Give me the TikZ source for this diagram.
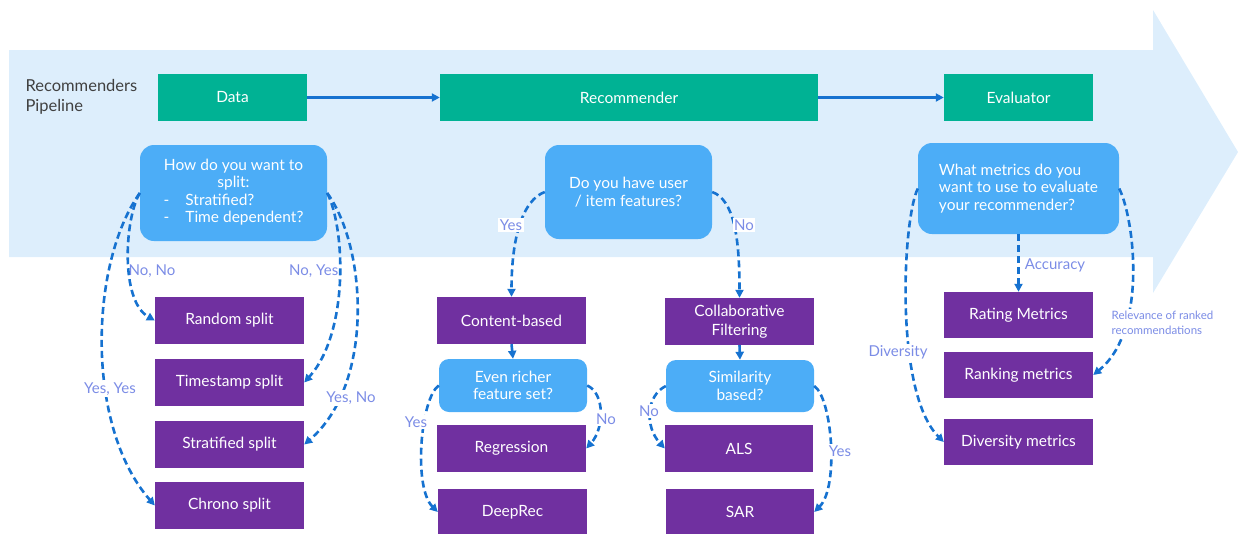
\documentclass[tikz,border=0pt]{standalone}
\usepackage{fontspec}
\setmainfont{Lato}
\usetikzlibrary{arrows.meta}
\definecolor{bgblue}{HTML}{DDEEFC}
\definecolor{greenc}{HTML}{00B294}
\definecolor{purplec}{HTML}{7030A0}
\definecolor{qblue}{HTML}{4CADF7}
\definecolor{linec}{HTML}{1672D0}
\definecolor{labc}{HTML}{7B8CE6}
\definecolor{titlec}{HTML}{404040}
\begin{document}
\begin{tikzpicture}[x=1pt,y=-1pt,
  gbox/.style={fill=greenc, text=white, minimum width=149pt, minimum height=47pt, inner sep=0pt, font=\fontsize{15.5}{18}\selectfont},
  pbox/.style={fill=purplec, text=white, minimum width=149pt, minimum height=47pt, inner sep=0pt, font=\fontsize{15.5}{18.5}\selectfont, align=center},
  qbox/.style={fill=qblue, text=white, rounded corners=14pt, inner sep=0pt, font=\fontsize{15.5}{17.5}\selectfont, align=center},
  dashc/.style={draw=linec, line width=2.6pt, dash pattern=on 7pt off 4pt, -{Triangle[length=8pt,width=8pt]}},
  solidc/.style={draw=linec, line width=2.6pt, -{Triangle[length=8pt,width=8pt]}},
  lab/.style={text=labc, font=\fontsize{15}{18}\selectfont, inner sep=1.5pt},
  labw/.style={lab, fill=white},
]
\useasboundingbox (0,0) rectangle (1238,533);
\clip (0,0) rectangle (1238,533);
% big pipeline arrow
\fill[bgblue] (9,50) -- (1153,50) -- (1153,10) -- (1238,152) -- (1153,293) -- (1153,257) -- (9,257) -- cycle;

\node[anchor=west, align=left, text=titlec, font=\fontsize{16.5}{20}\selectfont] (title) at (22,97) {Recommenders\\Pipeline};

% pipeline stages
\node[gbox] (data) at (232.5,97.5) {Data};
\node[gbox, minimum width=378pt] (rec) at (629,97.5) {Recommender};
\node[gbox] (eval) at (1018.5,97.5) {Evaluator};
\draw[solidc] (data.east) -- (rec.west);
\draw[solidc] (rec.east) -- (eval.west);

% questions
\node[qbox, minimum width=187pt, minimum height=96pt] (q1) at (233.5,193)
  {\begin{tabular}{@{}l@{}}\multicolumn{1}{@{}c@{}}{How do you want to}\\ \multicolumn{1}{@{}c@{}}{split:}\\ -\hspace{16pt}Stratified?\\ -\hspace{16pt}Time dependent?\end{tabular}};
\node[qbox, minimum width=167pt, minimum height=94pt] (q2) at (628.5,192) {Do you have user\\/ item features?};
\node[qbox, minimum width=201pt, minimum height=91pt, align=left] (q3) at (1018.5,188.5) {What metrics do you\\want to use to evaluate\\your recommender?};

% data column
\node[pbox] (rs) at (229.5,320.5) {Random split};
\node[pbox] (ts) at (229.5,382.5) {Timestamp split};
\node[pbox] (st) at (229.5,444.5) {Stratified split};
\node[pbox] (ch) at (229.5,505.5) {Chrono split};

% recommender columns
\node[pbox] (cb) at (511.5,320.5) {Content-based};
\node[qbox, rounded corners=10pt, minimum width=148pt, minimum height=53pt] (er) at (513,385.5) {Even richer\\feature set?};
\node[pbox] (reg) at (511.5,448.5) {Regression};
\node[pbox, minimum height=46pt] (dr) at (512.5,512) {DeepRec};

\node[pbox] (cf) at (739.5,321.5) {Collaborative\\Filtering};
\node[qbox, rounded corners=10pt, minimum width=148pt, minimum height=52pt] (sim) at (740,386) {Similarity\\based?};
\node[pbox, minimum width=148pt] (als) at (739,448.5) {ALS};
\node[pbox, minimum width=148pt, minimum height=46pt] (sar) at (740,512) {SAR};

% evaluator column
\node[pbox, minimum height=46pt] (rm) at (1018.5,315) {Rating Metrics};
\node[pbox, minimum height=46pt] (rk) at (1018.5,375) {Ranking metrics};
\node[pbox, minimum height=46pt] (dm) at (1018.5,442) {Diversity metrics};

% data connectors
\draw[dashc] (q1.west) .. controls +(-15,25) and +(-35,-20) .. (rs.west);
\draw[dashc] (q1.west) .. controls +(-50,70) and +(-70,-80) .. (ch.west);
\draw[dashc] (q1.east) .. controls +(18,35) and +(45,-50) .. (ts.east);
\draw[dashc] (q1.east) .. controls +(40,55) and +(70,-60) .. (st.east);
\node[lab, anchor=west] (lnn) at (127,271) {No, No};
\node[lab, anchor=east] (lny) at (340,271) {No, Yes};
\node[labw] (lyy) at (110,389) {Yes, Yes};
\node[labw] (lyn) at (351,398) {Yes, No};

% recommender connectors
\draw[dashc] (q2.west) .. controls +(-22,8) and +(0,-60) .. (cb.north);
\draw[dashc] (q2.east) .. controls +(22,8) and +(0,-60) .. (cf.north);
\node[labw] (lyes1) at (511,225) {Yes};
\node[labw] (lno1) at (744,225) {No};
\draw[solidc] (cb.south) -- (er.north);
\draw[dashc] (cf.south) -- (sim.north);
\draw[dashc] (er.west) .. controls +(-18,12) and +(-25,-25) .. (dr.west);
\draw[dashc] (er.east) .. controls +(18,8) and +(18,-20) .. (reg.east);
\draw[dashc] (sim.west) .. controls +(-20,10) and +(-20,-22) .. (als.west);
\draw[dashc] (sim.east) .. controls +(18,12) and +(25,-25) .. (sar.east);
\node[labw] (lyes2) at (416,422) {Yes};
\node[labw] (lno2) at (606,419) {No};
\node[labw] (lno3) at (649,411) {No};
\node[labw] (lyes3) at (840,451) {Yes};

% evaluator connectors
\draw[dashc] (q3.south) -- (rm.north);
\draw[dashc] (q3.west) .. controls +(-15,30) and +(-50,-50) .. (dm.west);
\draw[dashc] (q3.east) .. controls +(15,30) and +(55,-45) .. (rk.east);
\node[lab] (lacc) at (1055,265) {Accuracy};
\node[labw] (ldiv) at (898,352) {Diversity};
\node[labw, anchor=west, align=left, font=\fontsize{11.5}{15}\selectfont] (lrel) at (1110,322.5) {Relevance of ranked\\recommendations};
\end{tikzpicture}
\end{document}
